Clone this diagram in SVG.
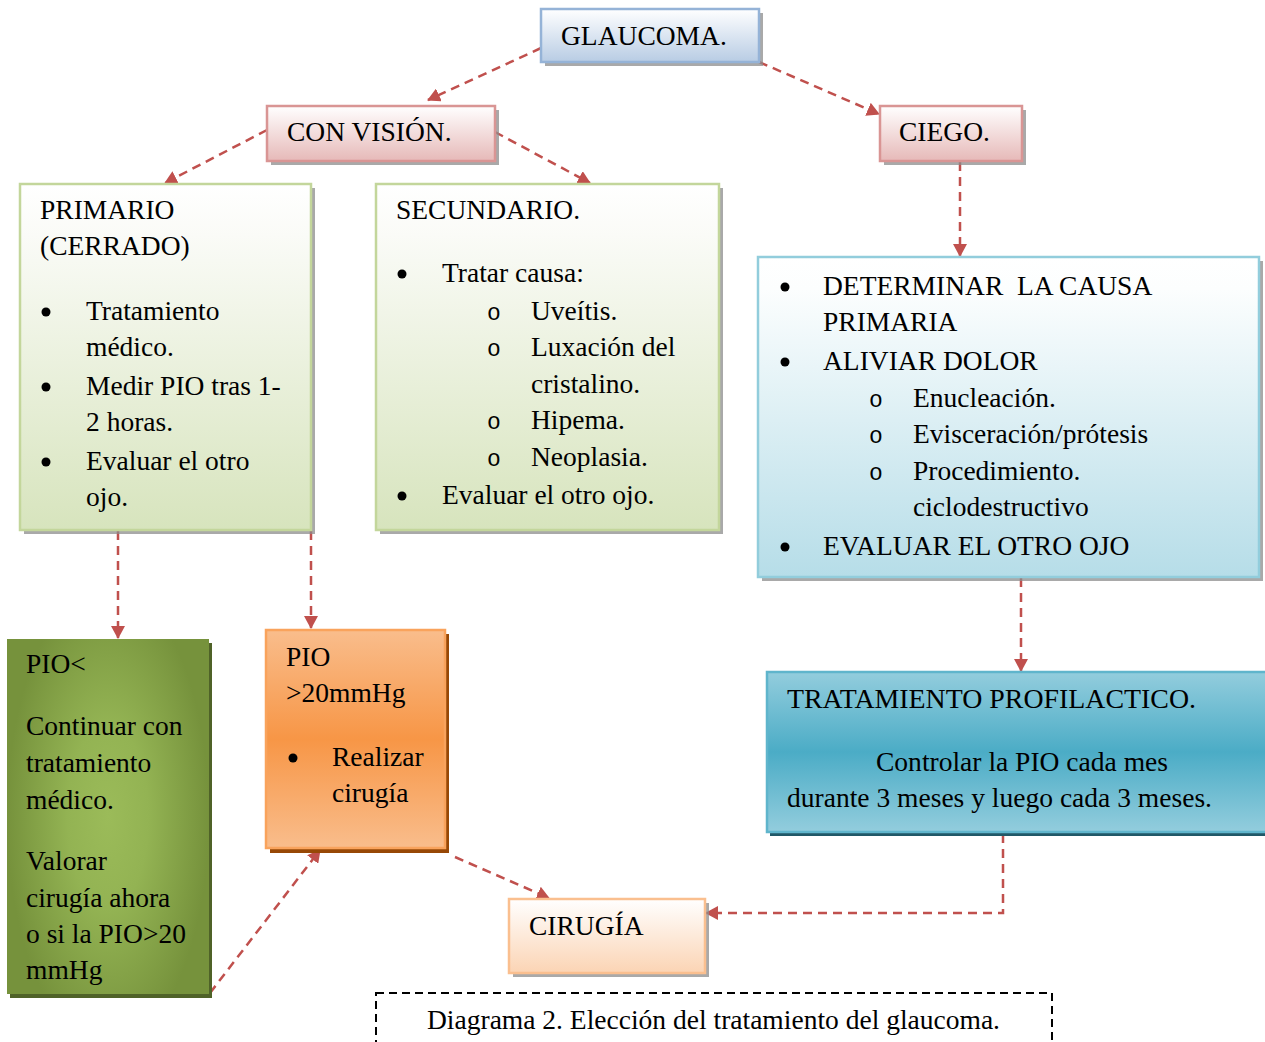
<svg xmlns="http://www.w3.org/2000/svg" width="1265" height="1042" viewBox="0 0 1265 1042">
<style>
text{font-family:"Liberation Serif","Times New Roman",serif;font-size:27.5px;fill:#000}
.mono{font-family:"Liberation Mono","Courier New",monospace;font-size:23px}
.sh{fill:#8c8c8c;opacity:.75}
.con{fill:none;stroke:#c0504d;stroke-width:2.5;stroke-dasharray:9 6}
</style>
<defs>
<linearGradient id="gBlue" x1="0" y1="0" x2="0" y2="1"><stop offset="0" stop-color="#ffffff"/><stop offset="1" stop-color="#b8cce4"/></linearGradient>
<linearGradient id="gRed" x1="0" y1="0" x2="0" y2="1"><stop offset="0" stop-color="#ffffff"/><stop offset="1" stop-color="#e6b9b8"/></linearGradient>
<linearGradient id="gGreen" x1="0" y1="0" x2="0" y2="1"><stop offset="0" stop-color="#ffffff"/><stop offset="0.15" stop-color="#fafbf7"/><stop offset="1" stop-color="#d7e4bd"/></linearGradient>
<linearGradient id="gAqua" x1="0" y1="0" x2="0" y2="1"><stop offset="0" stop-color="#ffffff"/><stop offset="0.1" stop-color="#fcfefe"/><stop offset="1" stop-color="#b6dde8"/></linearGradient>
<linearGradient id="gPeach" x1="0" y1="0" x2="0" y2="1"><stop offset="0" stop-color="#ffffff"/><stop offset="1" stop-color="#fbd4b4"/></linearGradient>
<linearGradient id="gOrange" x1="0" y1="0" x2="0" y2="1"><stop offset="0" stop-color="#f9bd8c"/><stop offset="0.5" stop-color="#f79646"/><stop offset="1" stop-color="#f9bd8c"/></linearGradient>
<linearGradient id="gTeal" x1="0" y1="0" x2="0" y2="1"><stop offset="0" stop-color="#93cddd"/><stop offset="0.5" stop-color="#4bacc6"/><stop offset="1" stop-color="#93cddd"/></linearGradient>
<radialGradient id="gOlive" cx="0.5" cy="0.5" r="0.5" gradientTransform="translate(0.5 0.5) scale(1 1.3) translate(-0.5 -0.5)"><stop offset="0" stop-color="#9bbb59"/><stop offset="0.4" stop-color="#93b353"/><stop offset="1" stop-color="#76923c"/></radialGradient>
<marker id="ah" markerWidth="14" markerHeight="14" refX="12" refY="7" orient="auto" markerUnits="userSpaceOnUse"><path d="M0,0 L13,7 L0,14 Z" fill="#c0504d"/></marker>
</defs>

<g id="connectors">
<path class="con" d="M541,48 L428,100" marker-end="url(#ah)"/>
<path class="con" d="M759,62 L879,114" marker-end="url(#ah)"/>
<path class="con" d="M267,130 L165,183" marker-end="url(#ah)"/>
<path class="con" d="M495,132 L590,183" marker-end="url(#ah)"/>
<path class="con" d="M960,162 L960,256" marker-end="url(#ah)"/>
<path class="con" d="M118,531 L118,638" marker-end="url(#ah)"/>
<path class="con" d="M311,531 L311,628" marker-end="url(#ah)"/>
<path class="con" d="M1021,578 L1021,671" marker-end="url(#ah)"/>
<path class="con" d="M210,993 L320,850" marker-end="url(#ah)"/>
<path class="con" d="M455,857 L549,898" marker-end="url(#ah)"/>
<path class="con" d="M1003,834 L1003,913 L706,913" marker-end="url(#ah)"/>
</g>

<g id="glaucoma">
<rect class="sh" x="545" y="13" width="218" height="53"/>
<rect x="541" y="9" width="218" height="53" fill="url(#gBlue)" stroke="#95b3d7" stroke-width="2.5"/>
<text x="561" y="45">GLAUCOMA.</text>
</g>

<g id="con-vision">
<rect class="sh" x="271" y="110" width="228" height="55"/>
<rect x="267" y="106" width="228" height="55" fill="url(#gRed)" stroke="#d99594" stroke-width="2.5"/>
<text x="287" y="141">CON VISIÓN.</text>
</g>

<g id="ciego">
<rect class="sh" x="884" y="110" width="142" height="55"/>
<rect x="880" y="106" width="142" height="55" fill="url(#gRed)" stroke="#d99594" stroke-width="2.5"/>
<text x="899" y="141">CIEGO.</text>
</g>

<g id="primario">
<rect class="sh" x="24" y="188" width="291" height="346"/>
<rect x="20" y="184" width="291" height="346" fill="url(#gGreen)" stroke="#c3d69b" stroke-width="2.5"/>
<text x="40" y="219">PRIMARIO</text>
<text x="40" y="255">(CERRADO)</text>
<circle cx="46" cy="312" r="4.5"/>
<text x="86" y="320">Tratamiento</text>
<text x="86" y="356">médico.</text>
<circle cx="46" cy="387" r="4.5"/>
<text x="86" y="395">Medir PIO tras 1-</text>
<text x="86" y="431">2 horas.</text>
<circle cx="46" cy="462" r="4.5"/>
<text x="86" y="470">Evaluar el otro</text>
<text x="86" y="506">ojo.</text>
</g>

<g id="secundario">
<rect class="sh" x="380" y="188" width="343" height="346"/>
<rect x="376" y="184" width="343" height="346" fill="url(#gGreen)" stroke="#c3d69b" stroke-width="2.5"/>
<text x="396" y="219">SECUNDARIO.</text>
<circle cx="402" cy="274" r="4.5"/>
<text x="442" y="282">Tratar causa:</text>
<text class="mono" x="487" y="320">o</text>
<text x="531" y="320">Uveítis.</text>
<text class="mono" x="487" y="356">o</text>
<text x="531" y="356">Luxación del</text>
<text x="531" y="393">cristalino.</text>
<text class="mono" x="487" y="429">o</text>
<text x="531" y="429">Hipema.</text>
<text class="mono" x="487" y="466">o</text>
<text x="531" y="466">Neoplasia.</text>
<circle cx="402" cy="496" r="4.5"/>
<text x="442" y="504">Evaluar el otro ojo.</text>
</g>

<g id="ciego-detalle">
<rect class="sh" x="762" y="261" width="501" height="320"/>
<rect x="758" y="257" width="501" height="320" fill="url(#gAqua)" stroke="#92cddc" stroke-width="2.5"/>
<circle cx="785" cy="287" r="4.5"/>
<text x="823" y="295" xml:space="preserve">DETERMINAR  LA CAUSA</text>
<text x="823" y="331">PRIMARIA</text>
<circle cx="785" cy="362" r="4.5"/>
<text x="823" y="370">ALIVIAR DOLOR</text>
<text class="mono" x="869" y="407">o</text>
<text x="913" y="407">Enucleación.</text>
<text class="mono" x="869" y="443">o</text>
<text x="913" y="443">Evisceración/prótesis</text>
<text class="mono" x="869" y="480">o</text>
<text x="913" y="480">Procedimiento.</text>
<text x="913" y="516">ciclodestructivo</text>
<circle cx="785" cy="547" r="4.5"/>
<text x="823" y="555">EVALUAR EL OTRO OJO</text>
</g>

<g id="pio-menor">
<rect x="10" y="643" width="202" height="355" fill="#4f6228"/>
<rect x="7" y="639" width="202" height="355" fill="url(#gOlive)"/>
<text x="26" y="673">PIO&lt;</text>
<text x="26" y="735">Continuar con</text>
<text x="26" y="772">tratamiento</text>
<text x="26" y="809">médico.</text>
<text x="26" y="870">Valorar</text>
<text x="26" y="907">cirugía ahora</text>
<text x="26" y="943">o si la PIO&gt;20</text>
<text x="26" y="979">mmHg</text>
</g>

<g id="pio-mayor">
<rect x="270" y="634" width="179" height="219" fill="#974806"/>
<rect x="266" y="630" width="179" height="218" fill="url(#gOrange)" stroke="#f9a35c" stroke-width="2.5"/>
<text x="286" y="666">PIO</text>
<text x="286" y="702">&gt;20mmHg</text>
<circle cx="293" cy="758" r="4.5"/>
<text x="332" y="766">Realizar</text>
<text x="332" y="802">cirugía</text>
</g>

<g id="profilactico">
<rect x="770" y="676" width="500" height="160" fill="#205867"/>
<rect x="767" y="672" width="502" height="160" fill="url(#gTeal)" stroke="#5fb5cc" stroke-width="2.5"/>
<text x="787" y="708" textLength="409" lengthAdjust="spacingAndGlyphs">TRATAMIENTO PROFILACTICO.</text>
<text x="876" y="771" textLength="292" lengthAdjust="spacingAndGlyphs">Controlar la PIO cada mes</text>
<text x="787" y="807" textLength="425" lengthAdjust="spacingAndGlyphs">durante 3 meses y luego cada 3 meses.</text>
</g>

<g id="cirugia">
<rect class="sh" x="513" y="903" width="196" height="74"/>
<rect x="509" y="899" width="196" height="74" fill="url(#gPeach)" stroke="#fabf8f" stroke-width="2.5"/>
<text x="529" y="935">CIRUGÍA</text>
</g>

<g id="caption">
<rect x="376" y="993" width="676" height="60" fill="#fff" stroke="#000" stroke-width="2" stroke-dasharray="8 5"/>
<text x="427" y="1029" textLength="573" lengthAdjust="spacingAndGlyphs">Diagrama 2. Elección del tratamiento del glaucoma.</text>
</g>
</svg>
